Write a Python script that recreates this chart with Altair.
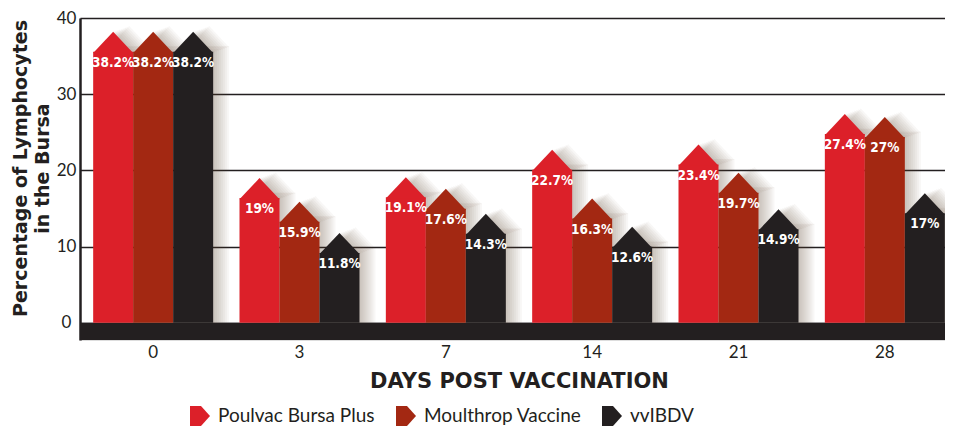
import altair as alt
import pandas as pd

days = ["0", "3", "7", "14", "21", "28"]
series = ["Poulvac Bursa Plus", "Moulthrop Vaccine", "vvIBDV"]
poulvac = [38.2, 19, 19.1, 22.7, 23.4, 27.4]
moulthrop = [38.2, 15.9, 17.6, 16.3, 19.7, 27]
vvibdv = [38.2, 11.8, 14.3, 12.6, 14.9, 17]
colors = ["#dc2029", "#a32812", "#231f20"]
y_ticks = [0, 10, 20, 30, 40]

rows = []
for name, vals in zip(series, [poulvac, moulthrop, vvibdv]):
    for d, v in zip(days, vals):
        rows.append({"day": d, "series": name, "value": v, "label": f"{v:g}%"})
df = pd.DataFrame(rows)

Y_MIN = -2.25
PLOT_W = 865
X_RANGE = 878
PLOT_H = 322
PX = PLOT_H / (40 - Y_MIN)
HEAD = 20 / PX
BAND_W = 120
HALF = 20
INK = "#231f20"

ARROW_UP = "M-1,1.06L0,0L1,1.06Z"
ARROW_RIGHT = "M-1,-1L0.1,-1L1,0L0.1,1L-1,1Z"

x_axis = alt.Axis(
    labelFont="Lato", labelFontSize=17, labelColor=INK, labelPadding=4,
    ticks=False, domain=False, grid=False, labelAngle=0,
    title="DAYS POST VACCINATION", titleFont="DejaVu Sans", titleFontSize=21,
    titleFontWeight="bold", titleColor=INK, titleY=41, titleBaseline="middle",
    titleX=439,
)
y_axis = alt.Axis(
    values=y_ticks, grid=True, gridColor=INK, gridWidth=1.6, gridOpacity=1,
    domain=True, domainColor=INK, domainWidth=2.5, ticks=False,
    labelPadding=14, labelAlign="center", labelBaseline="middle",
    labelFont="Lato", labelFontSize=17, labelColor=INK,
    title=["Percentage of Lymphocytes", "in the Bursa"], titleFont="DejaVu Sans",
    titleFontSize=19, titleFontWeight="bold", titleColor=INK, titleAngle=-90,
    titleX=-69, titleY=150, titleBaseline="top", titleAlign="center",
    titleLineHeight=22,
)
legend = alt.Legend(
    title=None, orient="none", legendX=110, legendY=388, direction="horizontal",
    columns=3, gridAlign="all", columnPadding=20, symbolType=ARROW_RIGHT,
    symbolSize=400, symbolStrokeWidth=0, symbolOpacity=1,
    labelFont="Lato", labelFontSize=19, labelColor=INK,
    labelOffset=8, labelLimit=300,
)


def xdef():
    return alt.X("day:N", sort=days,
                 scale=alt.Scale(range=[0, X_RANGE], paddingInner=0.18, paddingOuter=0.09),
                 axis=x_axis)


def ydef(field):
    return alt.Y(field, type="quantitative",
                 scale=alt.Scale(domain=[Y_MIN, 40], nice=False, zero=False),
                 axis=y_axis)


def xoff_band(shift):
    return alt.XOffset("series:N", sort=series,
                       scale=alt.Scale(type="band", range=[shift, BAND_W + shift],
                                       paddingInner=0, paddingOuter=0))


def xoff_pt(shift):
    return alt.XOffset("series:N", sort=series,
                       scale=alt.Scale(type="point", range=[HALF + shift, BAND_W - HALF + shift],
                                       padding=0))


color = alt.Color("series:N", scale=alt.Scale(domain=series, range=colors), legend=legend)

base = alt.Chart(df)

layers = []
# soft drop shadow
SHADOW = "#5a4a2c"
for k in range(1, 9):
    dx = 2.0 * k
    up = 0.7 * k / PX
    sh = base.transform_calculate(
        top=f"datum.value - {HEAD} + {up}", tip=f"datum.value + {up}"
    )
    layers.append(sh.mark_bar(color=SHADOW, opacity=0.042).encode(
        x=xdef(), xOffset=xoff_band(dx), y=ydef("top"), y2=alt.datum(0)))
    layers.append(sh.mark_point(shape=ARROW_UP, size=1600, filled=True, strokeWidth=0,
                                color=SHADOW, opacity=0.042).encode(
        x=xdef(), xOffset=xoff_pt(dx), y=ydef("tip")))

floor = alt.Chart(pd.DataFrame({"y0": [Y_MIN], "y1": [0]})).mark_rect(color=INK).encode(
    y=ydef("y0"), y2="y1")
layers.append(floor)

main = base.transform_calculate(top=f"datum.value - {HEAD}")
layers.append(main.mark_bar().encode(
    x=xdef(), xOffset=xoff_band(0), y=ydef("top"), y2=alt.datum(0), color=color))
layers.append(main.mark_point(shape=ARROW_UP, size=1600, filled=True, strokeWidth=0,
                              opacity=1).encode(
    x=xdef(), xOffset=xoff_pt(0), y=ydef("value"), color=color))
layers.append(main.mark_text(color="white", font="DejaVu Sans Condensed", fontWeight="bold",
                             fontSize=13.5, baseline="middle", dy=11).encode(
    x=xdef(), xOffset=xoff_pt(0), y=ydef("top"), text="label:N"))

chart = alt.layer(*layers).resolve_scale(xOffset="independent").properties(
    width=PLOT_W, height=PLOT_H,
    autosize=alt.AutoSizeParams(type="none"),
    padding={"left": 72, "top": 10, "right": 0, "bottom": 87},
).configure_view(fill="#fcefd2", stroke=None).configure(background="white")

chart.save("out.html", embed_options={"renderer": "svg", "actions": False})
